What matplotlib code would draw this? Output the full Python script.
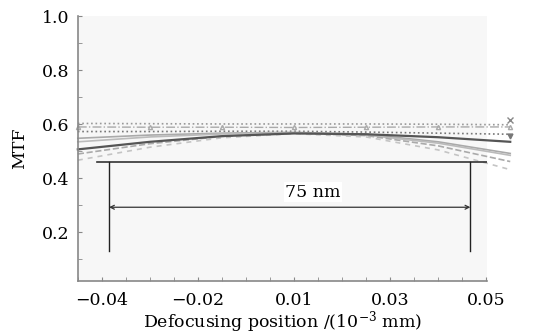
import numpy as np
import matplotlib.pyplot as plt
from matplotlib.ticker import MultipleLocator

# defocus positions (10^-3 mm) where the curves were read
x = [-0.045, -0.03, -0.015, 0.0, 0.015, 0.03, 0.045]

# MTF curves
mtf_a = [0.603, 0.602, 0.601, 0.601, 0.601, 0.600, 0.598]
mtf_b = [0.590, 0.589, 0.589, 0.588, 0.589, 0.590, 0.590]
mtf_c = [0.573, 0.573, 0.574, 0.574, 0.571, 0.567, 0.563]
mtf_d = [0.507, 0.535, 0.556, 0.566, 0.563, 0.552, 0.535]
mtf_e = [0.548, 0.560, 0.567, 0.570, 0.563, 0.535, 0.492]
mtf_f = [0.535, 0.553, 0.564, 0.568, 0.560, 0.530, 0.485]
mtf_g = [0.490, 0.528, 0.555, 0.567, 0.558, 0.520, 0.462]
mtf_h = [0.467, 0.515, 0.550, 0.565, 0.553, 0.505, 0.432]

# tick labels as printed
xticks = [-0.04, -0.02, 0.0, 0.02, 0.04]
xtick_labels = ["\u22120.04", "\u22120.02", "0.01", "0.03", "0.05"]
yticks = [0.2, 0.4, 0.6, 0.8, 1.0]

# depth of focus bracket
dof_left = -0.0385
dof_right = 0.0367
dof_label = "75 nm"

plt.rcParams['font.family'] = ['DejaVu Serif']
plt.rcParams['mathtext.fontset'] = 'dejavuserif'

fig = plt.figure(figsize=(5.48, 3.35), dpi=100)
ax = fig.add_axes([0.142, 0.161, 0.747, 0.791])
ax.set_facecolor('#f7f7f7')

kw = dict(clip_on=False)
ax.plot(x, mtf_a, ls=':', color='#999999', lw=1.2, **kw)
ax.plot(x[-1], mtf_a[-1] + 0.018, marker='x', color='#888888', ms=4, **kw)
ax.plot(x, mtf_b, ls='-.', color='#aaaaaa', lw=1.0, marker='^', ms=3,
        mfc='none', markevery=1, **kw)
ax.plot(x, mtf_c, ls=':', color='#777777', lw=1.2, **kw)
ax.plot(x[-1], mtf_c[-1] - 0.008, marker='v', color='#777777', ms=3.5, **kw)
ax.plot(x, mtf_e, ls='-', color='#aaaaaa', lw=1.2, **kw)
ax.plot(x, mtf_f, ls='-', color='#bbbbbb', lw=1.2, **kw)
ax.plot(x, mtf_g, ls='--', color='#aaaaaa', lw=1.2, **kw)
ax.plot(x, mtf_h, ls=(0, (3, 3)), color='#c4c4c4', lw=1.2, **kw)
ax.plot(x, mtf_d, ls='-', color='#555555', lw=1.6, **kw)

# bracket for the 75 nm range
ax.plot([-0.041, 0.0402], [0.459, 0.459], color='#333333', lw=1.2)
ax.plot([dof_left, dof_left], [0.459, 0.133], color='#222222', lw=1.0)
ax.plot([dof_right, dof_right], [0.459, 0.133], color='#222222', lw=1.0)
ax.annotate('', xy=(dof_left, 0.293), xytext=(dof_right, 0.293),
            arrowprops=dict(arrowstyle='<->', color='#333333', lw=0.9,
                            shrinkA=0, shrinkB=0, mutation_scale=7))
ax.text(0.004, 0.348, dof_label, ha='center', va='center', fontsize=12.5,
        bbox=dict(facecolor='white', edgecolor='none', pad=1))

ax.set_xlim(-0.045, 0.0402)
ax.set_ylim(0.02, 1.0)
ax.set_xticks(xticks)
ax.set_xticklabels(xtick_labels)
ax.set_yticks(yticks)
ax.xaxis.set_minor_locator(MultipleLocator(0.005))
ax.yaxis.set_minor_locator(MultipleLocator(0.1))
ax.tick_params(which='both', direction='in', length=3, color='#888888',
               labelsize=12.5)
ax.tick_params(axis='x', pad=8)
ax.tick_params(axis='y', pad=6)

for s in ['top', 'right']:
    ax.spines[s].set_visible(False)
for s in ['left', 'bottom']:
    ax.spines[s].set_color('#888888')
    ax.spines[s].set_linewidth(1.2)

ax.set_xlabel('Defocusing position /(10$^{-3}$ mm)', fontsize=12.5, labelpad=0)
ax.set_ylabel('MTF', fontsize=12.5, labelpad=10)

fig.savefig('out.png', dpi=100)
